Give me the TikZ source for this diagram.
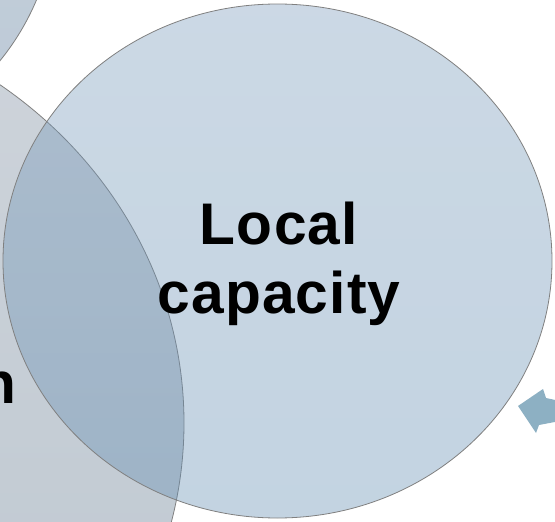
\documentclass[tikz,border=0pt]{standalone}
\usepackage{fontspec}
\setmainfont{Liberation Sans}
\newfontfamily\labelfont[LetterSpace=2]{Liberation Sans}
\definecolor{edgegrey}{RGB}{128,128,128}
\definecolor{blueTop}{RGB}{121,155,187}
\definecolor{blueBot}{RGB}{98,141,178}
\definecolor{greyTop}{RGB}{206,212,219}
\definecolor{greyBot}{RGB}{188,198,207}
\definecolor{tlTop}{RGB}{200,211,222}
\definecolor{tlBot}{RGB}{188,201,214}
\definecolor{arrowblue}{RGB}{141,176,195}
\tikzset{
  circedge/.style={draw=edgegrey, line width=0.8pt},
  bluecirc/.style={circedge, top color=blueTop, bottom color=blueBot, fill opacity=0.38, draw opacity=1},
  greycirc/.style={circedge, top color=greyTop, bottom color=greyBot},
  tlcirc/.style={circedge, top color=tlTop, bottom color=tlBot},
  bigtext/.style={font=\labelfont\bfseries\fontsize{58.7}{69}\selectfont, text=black, inner sep=0pt},
  arrowshape/.style={fill=arrowblue, draw=none}
}
\begin{document}
\begin{tikzpicture}[x=1pt,y=-1pt]
\useasboundingbox (0,0) rectangle (555,522);
\clip (0,0) rectangle (555,522);
\fill[white] (0,0) rectangle (555,522);
% top-left circle (partly visible)
\path[tlcirc] (-194,-97) circle [radius=250pt];
% left grey circle
\path[greycirc] (-268,423) ellipse [x radius=452pt, y radius=420pt];
% big blue circle
\path[bluecirc] (277.5,261) ellipse [x radius=274.5pt, y radius=257pt];
% labels
\node[bigtext, align=center, anchor=base] (lc) at (279,313) {Local\\capacity};
\node[bigtext, anchor=base east] (ln) at (17,403) {n};
% arrow at right
\coordinate (tip) at (518,406);
\path[arrowshape] (tip) -- (543,389) -- (546,398) -- (560,401) -- (560,421) -- (539,425) -- (536,433) -- cycle;
\end{tikzpicture}
\end{document}
